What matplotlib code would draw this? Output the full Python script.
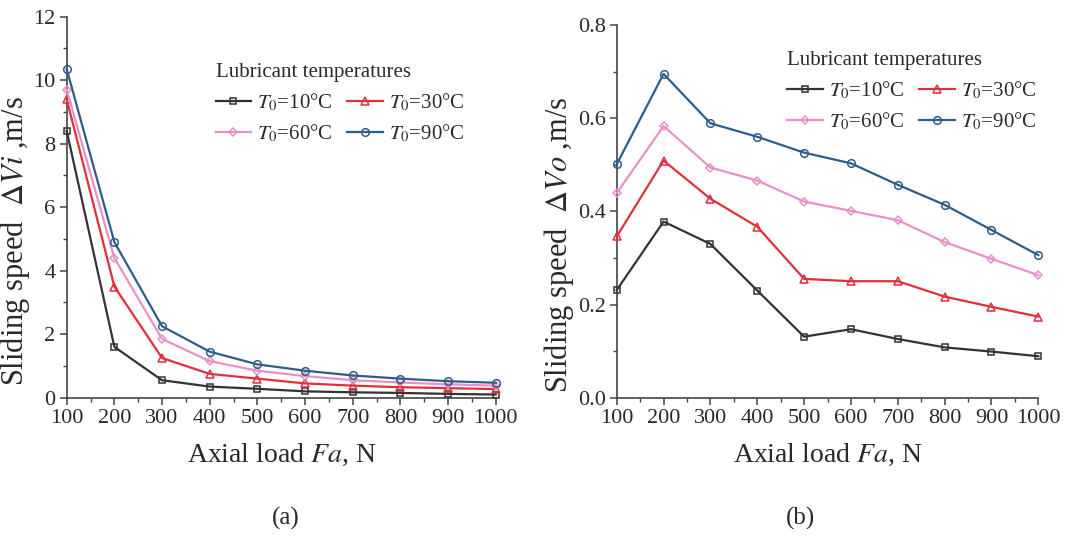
import matplotlib.pyplot as plt
from matplotlib.ticker import MultipleLocator

plt.rcParams['font.family'] = ['Liberation Serif', 'DejaVu Serif']
plt.rcParams['mathtext.fontset'] = 'stix'

#%%-------------------- data --------------------
loads = [100, 200, 300, 400, 500, 600, 700, 800, 900, 1000]
temps = ["10", "30", "60", "90"]

# (a) inner ring sliding speed
dvi_10 = [8.4, 1.6, 0.55, 0.35, 0.28, 0.20, 0.17, 0.15, 0.12, 0.10]
dvi_30 = [9.4, 3.5, 1.25, 0.75, 0.60, 0.45, 0.38, 0.33, 0.30, 0.27]
dvi_60 = [9.7, 4.4, 1.85, 1.15, 0.85, 0.68, 0.55, 0.48, 0.42, 0.38]
dvi_90 = [10.35, 4.9, 2.25, 1.45, 1.05, 0.85, 0.70, 0.60, 0.52, 0.47]

# (b) outer ring sliding speed
dvo_10 = [0.231, 0.378, 0.330, 0.230, 0.131, 0.147, 0.126, 0.108, 0.099, 0.089]
dvo_30 = [0.346, 0.509, 0.427, 0.367, 0.255, 0.250, 0.250, 0.217, 0.195, 0.174]
dvo_60 = [0.439, 0.583, 0.494, 0.466, 0.421, 0.401, 0.381, 0.334, 0.298, 0.263]
dvo_90 = [0.501, 0.695, 0.589, 0.560, 0.526, 0.503, 0.457, 0.414, 0.360, 0.306]

colors = ['#333333', '#e0303c', '#e890c8', '#2f5d8a']
markers = ['s', '^', 'D', 'o']
msizes = [5, 6, 4.5, 5.5]
txt = '#2a2a2a'

fig = plt.figure(figsize=(10.9, 5.49), dpi=100)
ax1 = fig.add_axes([0.0612, 0.2756, 0.3936, 0.694])
ax2 = fig.add_axes([0.5658, 0.2756, 0.3868, 0.6789])

def style(ax, ymax, ymaj, ymin, ylab, fmt):
    for s in ['top', 'right']:
        ax.spines[s].set_visible(False)
    for s in ['left', 'bottom']:
        ax.spines[s].set_color('#444444')
        ax.spines[s].set_linewidth(1.2)
    ax.set_xlim(100, 1000)
    ax.set_ylim(0, ymax)
    ax.set_xticks(loads)
    ax.xaxis.set_minor_locator(MultipleLocator(50))
    ax.yaxis.set_major_locator(MultipleLocator(ymaj))
    ax.yaxis.set_minor_locator(MultipleLocator(ymin))
    ax.yaxis.set_major_formatter(fmt)
    ax.tick_params(which='major', length=5, width=1.1, color='#444444',
                   labelsize=16, labelcolor=txt, pad=3)
    ax.tick_params(which='minor', length=3, width=1.0, color='#444444')
    ax.set_xlabel(r"Axial load $Fa$, N", fontsize=20, color=txt, labelpad=10)
    ax.set_ylabel(ylab, fontsize=22, color=txt, labelpad=1, y=0.41)

def draw(ax, series):
    lines = []
    for i, ys in enumerate(series):
        ln, = ax.plot(loads, ys, color=colors[i], lw=1.6, marker=markers[i],
                      ms=msizes[i], mfc='none', mec=colors[i], mew=1.1,
                      label=r"$T_0$=" + temps[i] + "°C", clip_on=False, zorder=3)
        lines.append(ln)
    return lines

l1 = draw(ax1, [dvi_10, dvi_30, dvi_60, dvi_90])
l2 = draw(ax2, [dvo_10, dvo_30, dvo_60, dvo_90])

style(ax1, 12, 2, 1, r"Sliding speed  $\Delta V\mathit{i}$ ,m/s", '{x:.0f}')
style(ax2, 0.8, 0.2, 0.1, r"Sliding speed  $\Delta V\mathit{o}$ ,m/s", '{x:.1f}')

# row-wise order: 10, 30 / 60, 90
order = [0, 2, 1, 3]
for ax, lines, loc in [(ax1, l1, (0.313, 0.916)), (ax2, l2, (0.370, 0.97))]:
    hs = [lines[k] for k in order]
    leg = ax.legend(hs, [h.get_label() for h in hs], ncol=2, frameon=False,
                    fontsize=15, title="Lubricant temperatures",
                    title_fontsize=15, loc='upper left', bbox_to_anchor=loc,
                    handlelength=1.7, handletextpad=0.3, columnspacing=0.7,
                    labelspacing=0.45, borderpad=0.2)
    leg._legend_box.align = 'left'
    for t in leg.get_texts():
        t.set_color(txt)
    leg.get_title().set_color(txt)

fig.text(0.2625, 0.045, "(a)", fontsize=18, color=txt, ha='center')
fig.text(0.7345, 0.045, "(b)", fontsize=18, color=txt, ha='center')

fig.savefig("out.png", dpi=100, facecolor='white')
